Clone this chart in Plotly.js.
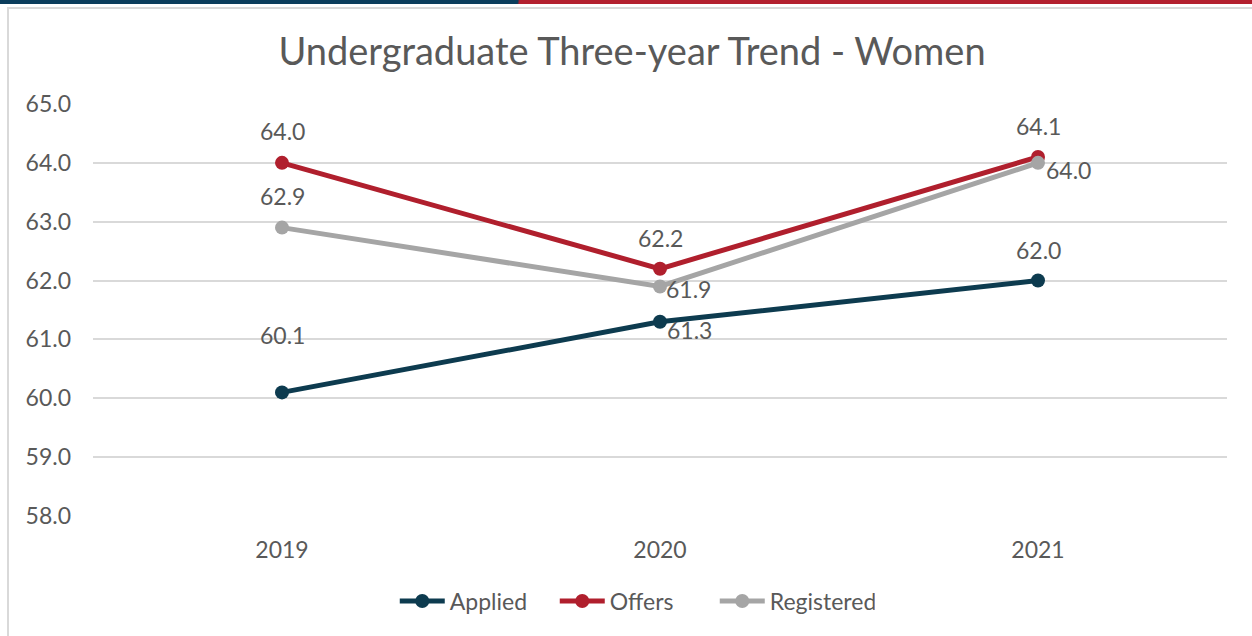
<!DOCTYPE html>
<html>
<head>
<meta charset="utf-8">
<script src="https://cdn.plot.ly/plotly-3.0.1.min.js"></script>
<style>
  html, body { margin: 0; padding: 0; background: #ffffff; }
  #wrap { position: relative; width: 1252px; height: 636px; overflow: hidden; }
  #stripe { position: absolute; left: 0; top: 0; width: 1252px; height: 4px;
    background: linear-gradient(100deg, #0b3d5c 0, #0b3d5c 510px, #b3202e 512px, #b3202e 100%); z-index: 2; }
  #box { position: absolute; left: 7px; top: 7px; width: 1260px; height: 640px;
    border-left: 2px solid #d9d9d9; border-top: 2px solid #d9d9d9; z-index: 2; pointer-events: none; }
  #chart { position: absolute; left: 0; top: 0; width: 1252px; height: 636px; z-index: 1; }
</style>
</head>
<body>
<div id="wrap">
  <div id="stripe"></div>
  <div id="box"></div>
  <div id="chart"></div>
</div>
<script>
const years = ["2019", "2020", "2021"];
const applied = [60.1, 61.3, 62.0];
const offers = [64.0, 62.2, 64.1];
const registered = [62.9, 61.9, 64.0];
const yTicks = [58, 59, 60, 61, 62, 63, 64, 65];

const colApplied = "#0d3b4f";
const colOffers = "#b01f2d";
const colRegistered = "#a5a5a5";
const fontFam = "Lato, 'Open Sans', sans-serif";
const textCol = "#595959";

function series(name, ys, color) {
  return {
    type: "scatter", mode: "lines+markers", name: name,
    x: years, y: ys,
    line: { color: color, width: 5 },
    marker: { color: color, size: 14 },
    hoverinfo: "skip"
  };
}

const data = [
  series("Applied", applied, colApplied),
  series("Offers", offers, colOffers),
  series("Registered", registered, colRegistered)
];

// label placement per point: [xshift, yshift]
const applShift = [[0, 57], [29, -8], [0, 31]];
const offShift = [[0, 32], [0, 31], [0, 31]];
const regShift = [[0, 32], [28, -3], [30, -7]];

const annotations = [];
function addLabels(ys, shifts) {
  ys.forEach((v, i) => {
    annotations.push({
      x: i, y: v, xref: "x", yref: "y",
      text: v.toFixed(1), showarrow: false,
      xshift: shifts[i][0], yshift: shifts[i][1],
      font: { family: fontFam, size: 23, color: textCol }
    });
  });
}
addLabels(applied, applShift);
addLabels(offers, offShift);
addLabels(registered, regShift);

const layout = {
  width: 1252, height: 636,
  margin: { l: 93, r: 25, t: 104, b: 120 },
  paper_bgcolor: "rgba(0,0,0,0)",
  plot_bgcolor: "rgba(0,0,0,0)",
  title: {
    text: "Undergraduate Three-year Trend - Women",
    font: { family: fontFam, size: 38, color: textCol },
    x: 632 / 1252, xref: "container", xanchor: "center",
    y: 1 - 52 / 636, yref: "container", yanchor: "middle"
  },
  xaxis: {
    type: "category", range: [-0.5, 2.5],
    showgrid: false, zeroline: false, showline: false,
    ticks: "", ticklabelstandoff: 18,
    tickfont: { family: fontFam, size: 23, color: textCol },
    fixedrange: true
  },
  yaxis: {
    range: [58, 65], tickvals: yTicks,
    ticktext: yTicks.map(v => v.toFixed(1)),
    showgrid: true, gridcolor: "#d9d9d9", gridwidth: 2,
    zeroline: false, showline: false, ticks: "", ticklabelstandoff: 21,
    tickfont: { family: fontFam, size: 23, color: textCol },
    fixedrange: true
  },
  showlegend: true,
  legend: {
    orientation: "h", xref: "container", yref: "container",
    x: 0.507, xanchor: "center", y: 1 - 601 / 636, yanchor: "middle",
    font: { family: fontFam, size: 23, color: textCol },
    itemwidth: 45, entrywidth: 100, tracegroupgap: 0
  },
  annotations: annotations
};

Plotly.newPlot("chart", data, layout, { displayModeBar: false, staticPlot: true });
</script>
</body>
</html>
